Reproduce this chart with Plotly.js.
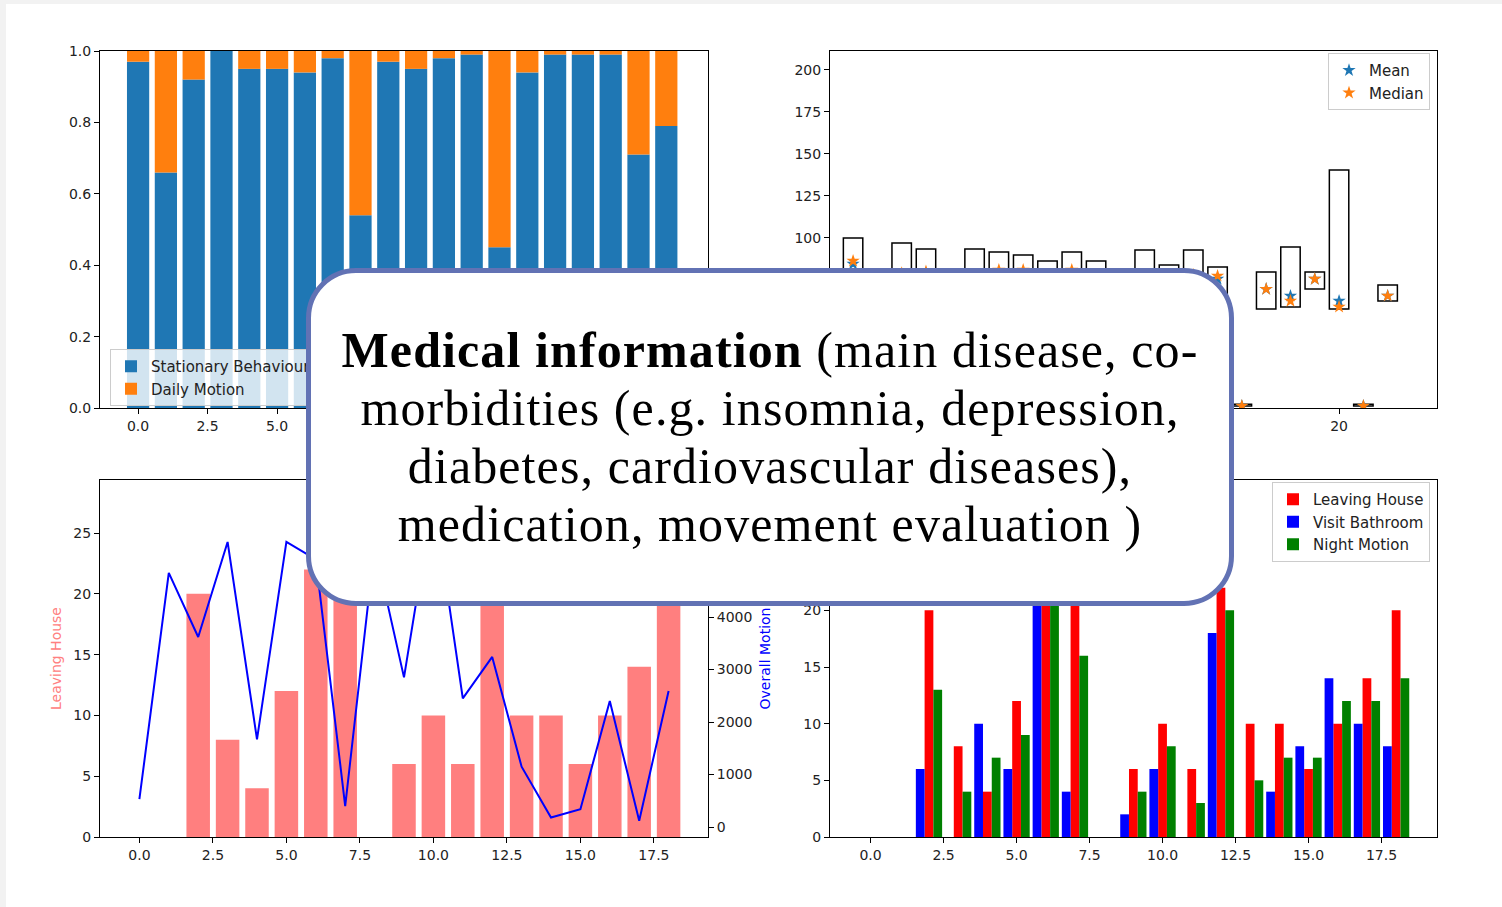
<!DOCTYPE html>
<html>
<head>
<meta charset="utf-8">
<script src="https://cdn.plot.ly/plotly-3.0.1.min.js"></script>
<style>
  html, body { margin: 0; padding: 0; background: #f2f2f2; }
  #wrap { position: relative; width: 1502px; height: 907px; }
  #chart { position: absolute; left: 0; top: 0; width: 1502px; height: 907px; }
  #callout {
    position: absolute; left: 306px; top: 268px; width: 928px; height: 338px;
    box-sizing: border-box; border: 5px solid #6272b4; border-radius: 50px;
    background: #ffffff; display: flex; align-items: center; justify-content: center;
    font-family: "Liberation Serif", "DejaVu Serif", serif; font-size: 50px; line-height: 58px;
    letter-spacing: 1.1px; color: #000; text-align: center;
  }
  #callout > div { margin-top: 0px; }
</style>
</head>
<body>
<div id="wrap">
  <div id="chart"></div>
  <div id="callout"><div><b>Medical information</b> (main disease, co-<br>morbidities (e.g. insomnia, depression,<br>diabetes, cardiovascular diseases),<br>medication, movement evaluation )</div></div>
</div>
<script>
// ---------- data ----------
// top-left: stacked proportions per day
const days20 = [0,1,2,3,4,5,6,7,8,9,10,11,12,13,14,15,16,17,18,19];
const stationary = [0.97,0.66,0.92,1.0,0.95,0.95,0.94,0.98,0.54,0.97,0.95,0.98,0.99,0.45,0.94,0.99,0.99,0.99,0.71,0.79];
const dailyMotion = [0.03,0.34,0.08,0.0,0.05,0.05,0.06,0.02,0.46,0.03,0.05,0.02,0.01,0.55,0.06,0.01,0.01,0.01,0.29,0.21];

// top-right: range boxes with mean / median
const boxDays = [0,2,3,5,6,7,8,9,10,12,13,14,15,16,17,18,19,20,21,22];
const boxMax = [100,97,93.5,93.5,91.7,89.9,86.3,91.7,86.3,92.9,83.9,92.9,82.7,1,79.8,94.6,79.8,140.5,1,72];
const boxMin = [62,60,64,58,61,63,66,60,65,58,68,61,63,0,57.7,58.9,69.6,57.7,0,62.5];
const meanVals = [84.5,78,79,76,77,76,75,76,75,76,76,77,75.6,0,69.6,65.5,75.6,62.5,0,65.5];
const medianVals = [86.3,79,80,77,81,81,76,81,76,77,75,78,77.4,0,69.6,62.5,75.6,59,0,65.5];

// bottom: per day counts
const days19 = [0,1,2,3,4,5,6,7,8,9,10,11,12,13,14,15,16,17,18];
const leavingHouse = [0,0,20,8,4,12,22,28,0,6,10,6,22,10,10,6,10,14,20];
const overallMotion = [530,4840,3620,5430,1670,5430,5100,400,5350,2850,6300,2450,3240,1150,180,340,2400,120,2590];
const visitBathroom = [0,0,6,0,10,6,30,4,0,2,6,0,18,0,4,8,14,10,8];
const nightMotion = [0,0,13,4,7,9,24,16,0,4,8,3,20,5,7,7,12,12,14];

// ---------- layout helpers ----------
const W = 1502, H = 907;
const xd = (a, b) => [a / W, b / W];
const yd = (top, bottom) => [1 - bottom / H, 1 - top / H];
const tickFont = { family: 'DejaVu Sans', size: 14, color: '#222' };
const baseAxis = {
  showline: true, mirror: true, linecolor: '#000', linewidth: 1,
  ticks: 'outside', ticklen: 5, tickwidth: 1, tickcolor: '#000',
  showgrid: false, zeroline: false, tickfont: tickFont, fixedrange: true
};
const ax = (o) => Object.assign({}, baseAxis, o);

const stationaryTop = stationary; // base of daily motion segment
const boxHeight = boxMax.map((v, i) => v - boxMin[i]);

const traces = [
  // top-left
  { type: 'bar', x: days20, y: stationary, width: 0.8, name: 'Stationary Behaviour',
    marker: { color: '#1f77b4', line: { width: 0 } }, xaxis: 'x', yaxis: 'y', legend: 'legend' },
  { type: 'bar', x: days20, y: dailyMotion, base: stationaryTop, width: 0.8, name: 'Daily Motion',
    marker: { color: '#ff7f0e', line: { width: 0 } }, xaxis: 'x', yaxis: 'y', legend: 'legend' },
  // top-right
  { type: 'bar', x: boxDays, y: boxHeight, base: boxMin, width: 0.8, showlegend: false,
    marker: { color: 'rgba(0,0,0,0)', line: { color: '#000', width: 1.5 } }, xaxis: 'x2', yaxis: 'y2' },
  { type: 'scatter', mode: 'markers', x: boxDays, y: meanVals, name: 'Mean',
    marker: { symbol: 'star', size: 10, color: '#1f77b4', line: { width: 0 } }, xaxis: 'x2', yaxis: 'y2', legend: 'legend2' },
  { type: 'scatter', mode: 'markers', x: boxDays, y: medianVals, name: 'Median',
    marker: { symbol: 'star', size: 10, color: '#ff7f0e', line: { width: 0 } }, xaxis: 'x2', yaxis: 'y2', legend: 'legend2' },
  // bottom-left
  { type: 'bar', x: days19, y: leavingHouse, width: 0.8, showlegend: false, name: 'Leaving House',
    marker: { color: 'rgba(255,0,0,0.5)', line: { width: 0 } }, xaxis: 'x3', yaxis: 'y3' },
  { type: 'scatter', mode: 'lines', x: days19, y: overallMotion, showlegend: false, name: 'Overall Motion',
    line: { color: '#0000ff', width: 2 }, xaxis: 'x3', yaxis: 'y4' },
  // bottom-right
  { type: 'bar', x: days19, y: leavingHouse, width: 0.3, offset: -0.15, name: 'Leaving House',
    marker: { color: '#ff0000', line: { width: 0 } }, xaxis: 'x5', yaxis: 'y5', legend: 'legend3' },
  { type: 'bar', x: days19, y: visitBathroom, width: 0.3, offset: -0.45, name: 'Visit Bathroom',
    marker: { color: '#0000ff', line: { width: 0 } }, xaxis: 'x5', yaxis: 'y5', legend: 'legend3' },
  { type: 'bar', x: days19, y: nightMotion, width: 0.3, offset: 0.15, name: 'Night Motion',
    marker: { color: '#008000', line: { width: 0 } }, xaxis: 'x5', yaxis: 'y5', legend: 'legend3' }
];

const legendBase = {
  bgcolor: 'rgba(255,255,255,0.8)', bordercolor: '#cccccc', borderwidth: 1,
  font: { family: 'DejaVu Sans', size: 15, color: '#222' },
  xref: 'paper', yref: 'paper', tracegroupgap: 0, itemclick: false, itemdoubleclick: false
};

const layout = {
  width: W, height: H,
  margin: { l: 0, r: 0, t: 0, b: 0, pad: 0 },
  paper_bgcolor: '#f2f2f2', plot_bgcolor: '#ffffff',
  barmode: 'overlay', showlegend: true,
  font: { family: 'DejaVu Sans', size: 14, color: '#222' },
  shapes: [
    { type: 'rect', xref: 'paper', yref: 'paper', x0: 6 / W, x1: 1, y0: 0, y1: 1 - 4 / H,
      fillcolor: '#ffffff', line: { width: 0 }, layer: 'below' }
  ],
  // top-left
  xaxis: ax({ domain: xd(100, 708), anchor: 'y', range: [-1.37, 20.5], tick0: 0, dtick: 2.5, tickformat: '.1f' }),
  yaxis: ax({ domain: yd(51, 408), anchor: 'x', range: [0, 1], tick0: 0, dtick: 0.2, tickformat: '.1f' }),
  // top-right
  xaxis2: ax({ domain: xd(830, 1437), anchor: 'y2', range: [-0.95, 24.03], tick0: 0, dtick: 5 }),
  yaxis2: ax({ domain: yd(51, 408), anchor: 'x2', range: [-1.2, 211.3], tick0: 0, dtick: 25 }),
  // bottom-left
  xaxis3: ax({ domain: xd(100, 708), anchor: 'y3', range: [-1.34, 19.34], tick0: 0, dtick: 2.5, tickformat: '.1f' }),
  yaxis3: ax({ domain: yd(480, 837), anchor: 'x3', range: [0, 29.36], tick0: 0, dtick: 5,
    title: { text: 'Leaving House', font: { family: 'DejaVu Sans', size: 14, color: '#ff8080' }, standoff: 8 } }),
  yaxis4: ax({ overlaying: 'y3', side: 'right', anchor: 'x3', showline: false, mirror: false,
    range: [-190, 6610], tick0: 0, dtick: 1000,
    title: { text: 'Overall Motion', font: { family: 'DejaVu Sans', size: 14, color: '#0000ff' }, standoff: 8 } }),
  // bottom-right
  xaxis5: ax({ domain: xd(830, 1437), anchor: 'y5', range: [-1.39, 19.4], tick0: 0, dtick: 2.5, tickformat: '.1f' }),
  yaxis5: ax({ domain: yd(480, 837), anchor: 'x5', range: [0, 31.5], tick0: 0, dtick: 5 }),
  legend: Object.assign({}, legendBase, { x: 110 / W, y: 1 - 349 / H, xanchor: 'left', yanchor: 'top' }),
  legend2: Object.assign({}, legendBase, { x: 1430 / W, y: 1 - 53 / H, xanchor: 'right', yanchor: 'top' }),
  legend3: Object.assign({}, legendBase, { x: 1430 / W, y: 1 - 482 / H, xanchor: 'right', yanchor: 'top' })
};

Plotly.newPlot('chart', traces, layout, { displayModeBar: false, staticPlot: true });
</script>
</body>
</html>
